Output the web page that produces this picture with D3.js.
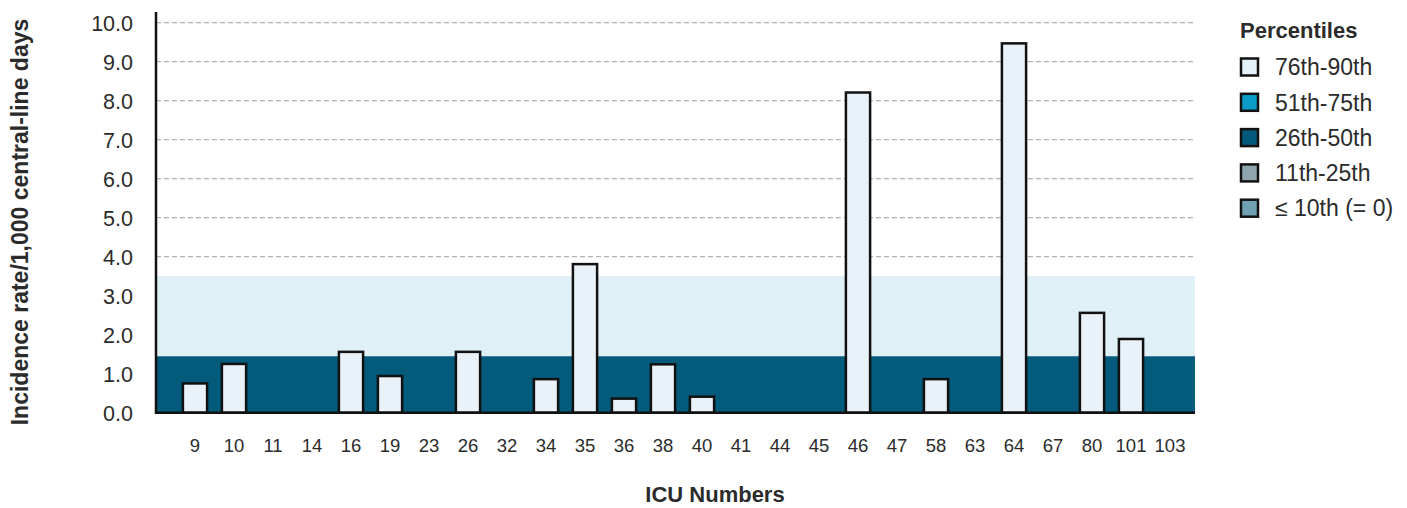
<!DOCTYPE html>
<html><head><meta charset="utf-8">
<script src="https://cdn.jsdelivr.net/npm/d3@7"></script>
<style>body{margin:0;background:#fff}svg{display:block;font-family:"Liberation Sans",Arial,Helvetica,sans-serif}</style>
</head><body><svg id="c" width="1407" height="508"></svg>
<script>
const categories = ["9","10","11","14","16","19","23","26","32","34","35","36","38","40","41","44","45","46","47","58","63","64","67","80","101","103"];
const rates = [0.75,1.25,0,0,1.56,0.94,0,1.56,0,0.86,3.81,0.36,1.24,0.41,0,0,0,8.21,0,0.86,0,9.47,0,2.56,1.89,0];
const yTicks = [0,1,2,3,4,5,6,7,8,9,10];
const bandLevels = [{from:0,to:1.45,color:"#035a7a"},{from:1.45,to:3.5,color:"#dff0f7"}];
const legendLabels = ["76th-90th","51th-75th","26th-50th","11th-25th","\u2264 10th (= 0)"];
const legendColors = ["#e3f1f8","#0a9cc6","#03597a","#8fa5ae","#6fa0b4"];

const svg = d3.select("#c");
const L = 156, R = 1195;
const y = d3.scaleLinear().domain([0,10]).range([412.7,22.7]);
const x = d3.scaleBand().domain(categories).range([175.5,1189.5]).paddingInner(0.38).paddingOuter(0.19);

// gridlines
svg.append("g").selectAll("line").data(yTicks.filter(d=>d>0)).join("line")
  .attr("x1",L).attr("x2",R).attr("y1",d=>y(d)).attr("y2",d=>y(d))
  .attr("stroke","#b4b4b4").attr("stroke-width",1.2).attr("stroke-dasharray","5,3");

// percentile bands
svg.append("g").selectAll("rect").data(bandLevels).join("rect")
  .attr("x",L).attr("width",R-L).attr("y",d=>y(d.to)).attr("height",d=>y(d.from)-y(d.to))
  .attr("fill",d=>d.color);

// y axis labels
const yAxis = d3.axisLeft(y).tickValues(yTicks).tickFormat(d3.format(".1f")).tickSize(0).tickPadding(0);
const gy = svg.append("g").attr("transform",`translate(133,0)`).call(yAxis);
gy.select(".domain").remove();
gy.selectAll("text").attr("font-size",21.5).attr("fill","#2b2b2b").attr("font-family","Liberation Sans, Arial, sans-serif").attr("dy","0.36em");

// x axis labels
const xAxis = d3.axisBottom(x).tickSize(0).tickPadding(0);
const gx = svg.append("g").attr("transform",`translate(0,439)`).call(xAxis);
gx.select(".domain").remove();
gx.selectAll("text").attr("font-size",18.5).attr("fill","#2b2b2b").attr("font-family","Liberation Sans, Arial, sans-serif").attr("dy","0.71em");

// bars
svg.append("g").selectAll("rect").data(categories.map((c,i)=>({c,v:rates[i]})).filter(d=>d.v>0)).join("rect")
  .attr("x",d=>x(d.c)).attr("width",x.bandwidth())
  .attr("y",d=>y(d.v)).attr("height",d=>y(0)-y(d.v))
  .attr("fill","#eaf2f9").attr("stroke","#111").attr("stroke-width",2.5);

// axes lines
svg.append("line").attr("x1",L).attr("x2",R).attr("y1",y(0)).attr("y2",y(0)).attr("stroke","#111").attr("stroke-width",2.5);
svg.append("line").attr("x1",L).attr("x2",L).attr("y1",12).attr("y2",y(0)+1.2).attr("stroke","#111").attr("stroke-width",2.5);

// titles
svg.append("text").attr("x",715).attr("y",502).attr("text-anchor","middle")
  .attr("font-size",22).attr("font-weight","bold").attr("fill","#2b2b2b").text("ICU Numbers");
svg.append("text").attr("transform","translate(28,222) rotate(-90)").attr("text-anchor","middle")
  .attr("font-size",23).attr("font-weight","bold").attr("fill","#2b2b2b").text("Incidence rate/1,000 central-line days");

// legend
const lg = svg.append("g");
lg.append("text").attr("x",1240).attr("y",38).attr("font-size",22).attr("font-weight","bold").attr("fill","#2b2b2b").text("Percentiles");
const items = lg.selectAll("g.item").data(legendLabels).join("g").attr("class","item")
  .attr("transform",(d,i)=>`translate(1240,${67+i*35.3})`);
items.append("rect").attr("x",1).attr("y",-8.5).attr("width",17).attr("height",17)
  .attr("fill",(d,i)=>legendColors[i]).attr("stroke","#111").attr("stroke-width",2.5);
items.append("text").attr("x",35).attr("y",0).attr("dy","0.36em").attr("font-size",23).attr("fill","#2b2b2b").text(d=>d);
</script></body></html>
